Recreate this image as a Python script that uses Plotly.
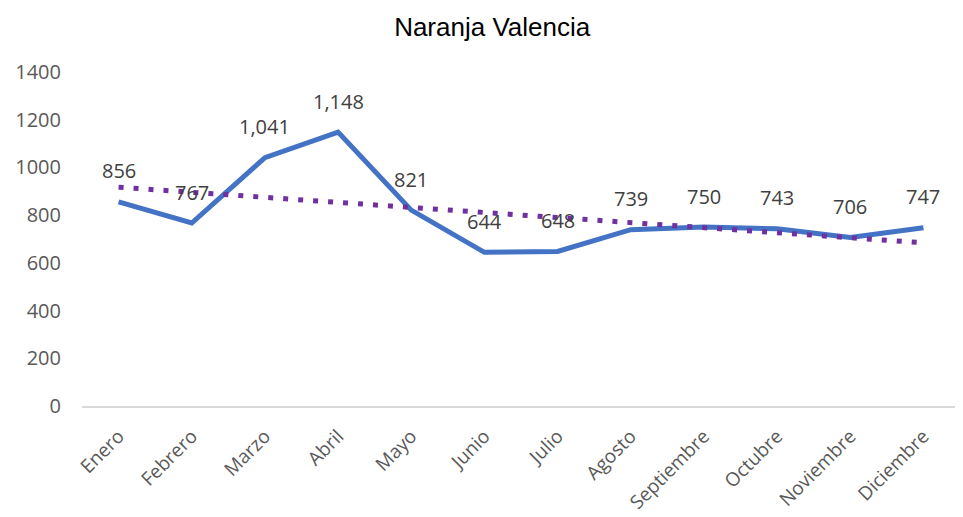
import plotly.graph_objects as go

months = ["Enero", "Febrero", "Marzo", "Abril", "Mayo", "Junio", "Julio",
          "Agosto", "Septiembre", "Octubre", "Noviembre", "Diciembre"]
values = [856, 767, 1041, 1148, 821, 644, 648, 739, 750, 743, 706, 747]
labels = ["856", "767", "1,041", "1,148", "821", "644", "648", "739", "750", "743", "706", "747"]
# linear trendline values
trend = [917, 896, 875, 854, 833, 811, 790, 769, 748, 727, 705, 684]
y_ticks = [0, 200, 400, 600, 800, 1000, 1200, 1400]

FONT = "Open Sans, sans-serif"

fig = go.Figure()
fig.add_trace(go.Scatter(
    x=months, y=values, mode="lines",
    line=dict(color="#4472C4", width=5), showlegend=False,
))
fig.add_trace(go.Scatter(
    x=months, y=trend, mode="lines",
    line=dict(color="#7030A0", width=5, dash="5px,10px"), showlegend=False,
))

for m, v, t in zip(months, values, labels):
    fig.add_annotation(x=m, y=v, text=t, showarrow=False, yanchor="middle",
                       yshift=31, font=dict(family=FONT, size=20, color="#404040"))

fig.update_layout(
    width=955, height=510,
    margin=dict(l=74, r=3, t=64, b=112, autoexpand=False),
    paper_bgcolor="white", plot_bgcolor="white",
    title=dict(text="Naranja Valencia", x=0.507, xanchor="center", y=0.963, yanchor="middle",
               font=dict(family="Liberation Sans, Arial, sans-serif", size=26, color="#000000")),
    xaxis=dict(range=[-0.5, len(months) - 0.5], showgrid=False, showline=True,
               linecolor="#D9D9D9", linewidth=1.5,
               tickangle=-45, ticks="", zeroline=False, automargin=False,
               ticklabelstandoff=10,
               tickfont=dict(family=FONT, size=19, color="#595959")),
    yaxis=dict(range=[0, 1400], tickvals=y_ticks, showgrid=False, zeroline=False,
               showline=False, ticks="", ticklabelstandoff=20, automargin=False,
               tickfont=dict(family=FONT, size=20, color="#595959")),
)
fig.write_html("out.html")
